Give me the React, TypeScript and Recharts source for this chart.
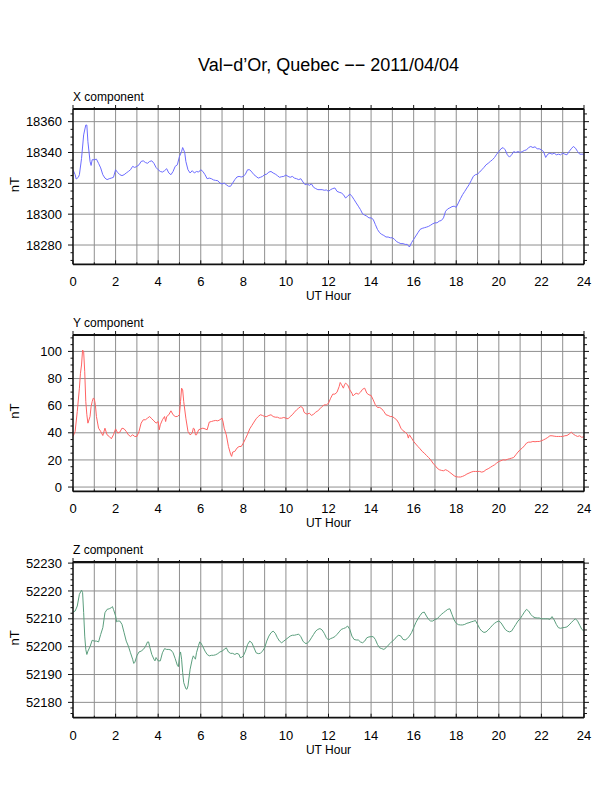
import React from "react";
import {
  CartesianGrid,
  Line,
  LineChart,
  XAxis,
  YAxis,
} from "recharts";

// [UT hour, nT]
const xComponent = [
  [0, 18328.8], [0.1, 18325.6], [0.15, 18322.8], [0.25, 18323.9], [0.3, 18325.6], [0.4, 18336], [0.5, 18351.4],
  [0.6, 18357.8], [0.65, 18357.8], [0.7, 18347], [0.8, 18334.2], [0.85, 18331.6], [0.9, 18335.3], [1.0, 18335.3],
  [1.1, 18335.7], [1.2, 18333], [1.3, 18330], [1.4, 18325.6], [1.5, 18323.4], [1.6, 18322.4], [1.7, 18323],
  [1.8, 18323.4], [1.9, 18323.9], [2.0, 18328.8], [2.1, 18327], [2.2, 18325.6], [2.3, 18325], [2.4, 18325.6],
  [2.5, 18326.7], [2.6, 18327.7], [2.7, 18328.8], [2.8, 18331], [2.9, 18330.3], [3.0, 18331], [3.1, 18332],
  [3.2, 18334.2], [3.3, 18334.6], [3.4, 18333.5], [3.5, 18333], [3.6, 18334.2], [3.7, 18334.6], [3.8, 18333],
  [3.9, 18330.3], [4.0, 18328.8], [4.1, 18327.7], [4.2, 18327.3], [4.3, 18328.2], [4.4, 18329.5], [4.5, 18326.7],
  [4.6, 18325.6], [4.7, 18327.7], [4.8, 18331], [4.9, 18332], [5.0, 18337.4], [5.1, 18340.6], [5.15, 18343.2],
  [5.2, 18341.7], [5.25, 18339.6], [5.3, 18334.2], [5.4, 18328.8], [5.5, 18326.7], [5.6, 18328.2], [5.7, 18326.7],
  [5.8, 18327.7], [5.9, 18327.3], [6.0, 18328.8], [6.1, 18327.7], [6.2, 18325.6], [6.3, 18323], [6.4, 18323.4],
  [6.5, 18323], [6.6, 18322.2], [6.7, 18321.9], [6.8, 18321.7], [6.9, 18320.2], [7.0, 18319.6], [7.1, 18320.2],
  [7.2, 18319.1], [7.3, 18318.1], [7.4, 18318.1], [7.5, 18320.2], [7.6, 18322.4], [7.7, 18324.1], [7.8, 18324.5],
  [7.9, 18324.1], [8.0, 18324.5], [8.1, 18326], [8.2, 18328.8], [8.3, 18328.8], [8.4, 18327.3], [8.5, 18325.6],
  [8.6, 18324.5], [8.7, 18323.4], [8.8, 18323.9], [8.9, 18324.5], [9.0, 18325.6], [9.1, 18326], [9.2, 18327.3],
  [9.3, 18327.7], [9.4, 18326.7], [9.5, 18326], [9.6, 18325], [9.7, 18323.9], [9.8, 18324.3], [9.9, 18324.5],
  [10.0, 18325.4], [10.1, 18324.5], [10.2, 18323.9], [10.3, 18324.5], [10.4, 18323.4], [10.5, 18323], [10.6, 18322.4],
  [10.7, 18323], [10.8, 18320.9], [10.9, 18319.1], [11.0, 18319.6], [11.1, 18318.7], [11.2, 18319.6], [11.3, 18317.4],
  [11.4, 18316.6], [11.5, 18315.9], [11.6, 18315.9], [11.7, 18315.9], [11.8, 18315.5], [11.9, 18315.7], [12.0, 18314.8],
  [12.1, 18315.9], [12.2, 18316.6], [12.3, 18317], [12.4, 18314.8], [12.5, 18314.2], [12.6, 18313.8], [12.7, 18312.7],
  [12.8, 18310.5], [12.9, 18311.6], [13.0, 18313.1], [13.1, 18311.6], [13.2, 18309.5], [13.3, 18307.3], [13.4, 18305.2],
  [13.5, 18303], [13.6, 18300.2], [13.7, 18299.4], [13.8, 18298.7], [13.9, 18297.6], [14.0, 18297.6], [14.1, 18296.6],
  [14.2, 18293.3], [14.3, 18290.1], [14.4, 18288], [14.5, 18286.9], [14.6, 18286.2], [14.7, 18285.2], [14.8, 18285.2],
  [14.9, 18284.7], [15.0, 18284.7], [15.1, 18283.7], [15.2, 18282.2], [15.3, 18281.5], [15.4, 18280.9], [15.5, 18280.9],
  [15.6, 18280.4], [15.7, 18280.4], [15.8, 18278.7], [15.9, 18281.5], [16.0, 18283.7], [16.1, 18285.8], [16.2, 18288],
  [16.3, 18290.1], [16.4, 18290.8], [16.5, 18291.2], [16.6, 18291.6], [16.7, 18292.1], [16.8, 18292.9], [16.9, 18293.8],
  [17.0, 18294.4], [17.1, 18294.4], [17.2, 18295.5], [17.3, 18295.9], [17.4, 18297.6], [17.5, 18301.9], [17.6, 18303.4],
  [17.7, 18304.1], [17.8, 18304.9], [17.9, 18305.2], [18.0, 18304.5], [18.1, 18307.3], [18.2, 18310.1], [18.3, 18312.7],
  [18.4, 18314.8], [18.5, 18317], [18.6, 18319.1], [18.7, 18321.7], [18.8, 18324.5], [18.9, 18325.6], [19.0, 18326],
  [19.1, 18327.3], [19.2, 18328.8], [19.3, 18330.3], [19.4, 18332], [19.5, 18333], [19.6, 18334.2], [19.7, 18335.3],
  [19.8, 18336.8], [19.9, 18338.9], [20.0, 18340.6], [20.1, 18342.4], [20.2, 18343.2], [20.3, 18341.7], [20.4, 18338.5],
  [20.5, 18337], [20.6, 18338.5], [20.7, 18340.6], [20.8, 18340], [20.9, 18340.6], [21.0, 18340], [21.1, 18340.6],
  [21.2, 18341.3], [21.3, 18341.7], [21.4, 18343.2], [21.5, 18343.9], [21.6, 18343.2], [21.7, 18343.7], [21.8, 18342.4],
  [21.9, 18342.4], [22.0, 18341.7], [22.1, 18340.6], [22.2, 18336.8], [22.3, 18338.9], [22.4, 18339.6], [22.5, 18338.9],
  [22.6, 18339.6], [22.7, 18338.5], [22.8, 18338.9], [22.9, 18338.5], [23.0, 18339.6], [23.1, 18338.9], [23.2, 18338.5],
  [23.3, 18340.6], [23.4, 18342.4], [23.5, 18343.9], [23.6, 18342.8], [23.7, 18340.6], [23.8, 18338.9], [24.0, 18338.9],
];

const yComponent = [
  [0, 37.3], [0.1, 41], [0.2, 55.7], [0.3, 72.9], [0.35, 83.9], [0.4, 90], [0.45, 101], [0.5, 99.9], [0.55, 85],
  [0.6, 63], [0.65, 53.3], [0.7, 47.1], [0.8, 52], [0.85, 59.4], [0.9, 63], [0.95, 65.5], [1.0, 65], [1.05, 60.6],
  [1.1, 52], [1.2, 43.4], [1.3, 41], [1.4, 38], [1.5, 43.4], [1.6, 38.5], [1.7, 37.3], [1.8, 35.6], [1.9, 38.5],
  [2.0, 42.9], [2.1, 39.8], [2.2, 40.5], [2.3, 43.4], [2.4, 42.9], [2.5, 41], [2.6, 38.5], [2.7, 37.3], [2.8, 38.5],
  [2.9, 37.3], [3.0, 37.3], [3.1, 41], [3.2, 47.1], [3.3, 49.6], [3.4, 49.6], [3.5, 50.8], [3.6, 52], [3.7, 50.3],
  [3.8, 48.8], [3.9, 47.1], [4.0, 48.3], [4.05, 42.2], [4.1, 45.9], [4.2, 49.6], [4.3, 52], [4.35, 48.3], [4.4, 52],
  [4.5, 53.3], [4.6, 56.2], [4.7, 53.3], [4.8, 52], [4.9, 52], [5.0, 53.3], [5.05, 63], [5.1, 72.9], [5.15, 71.7],
  [5.2, 63], [5.3, 50.8], [5.4, 41], [5.5, 38.5], [5.6, 39.8], [5.65, 43.4], [5.7, 42.9], [5.75, 38.5], [5.8, 38.5],
  [5.9, 42.2], [6.0, 42.9], [6.1, 43.4], [6.2, 42.9], [6.3, 42.2], [6.4, 47.9], [6.5, 48.3], [6.6, 48.8], [6.7, 49.1],
  [6.8, 48.8], [6.9, 49.6], [7.0, 50.8], [7.05, 47.9], [7.1, 43.4], [7.2, 38.5], [7.3, 29.9], [7.4, 24.3], [7.45, 22.6],
  [7.5, 25.8], [7.6, 26.3], [7.7, 28.7], [7.8, 29.9], [7.9, 29.9], [8.0, 32.4], [8.1, 35.6], [8.2, 39], [8.3, 42.9],
  [8.4, 45.4], [8.5, 47.9], [8.6, 50.3], [8.7, 52], [8.8, 53.3], [8.9, 52.8], [9.0, 52], [9.1, 52], [9.2, 52.8],
  [9.3, 53.3], [9.4, 52], [9.5, 51.5], [9.6, 51.5], [9.7, 50.8], [9.8, 50.8], [9.9, 51.3], [10.0, 50.8], [10.1, 50.3],
  [10.2, 52], [10.3, 53.3], [10.4, 55.2], [10.5, 56.9], [10.6, 58.2], [10.7, 59.4], [10.8, 58.2], [10.85, 55.2],
  [10.9, 54.5], [11.0, 53.7], [11.1, 54.5], [11.2, 52.8], [11.3, 53.7], [11.4, 55.2], [11.5, 56.2], [11.6, 57.7],
  [11.7, 59.4], [11.8, 60.6], [11.9, 60.6], [12.0, 61.8], [12.1, 65.5], [12.2, 68.5], [12.3, 68.5], [12.4, 69.9],
  [12.5, 74.1], [12.55, 77.1], [12.6, 75.8], [12.7, 72.9], [12.75, 75.3], [12.8, 76.6], [12.9, 75.3], [13.0, 71.7],
  [13.1, 69.2], [13.15, 67.2], [13.2, 68], [13.3, 69.2], [13.4, 68.5], [13.5, 69.9], [13.6, 72.1], [13.7, 72.9],
  [13.8, 69.2], [13.9, 68], [14.0, 67.5], [14.1, 64.3], [14.2, 60.6], [14.3, 58.7], [14.4, 58.7], [14.5, 57.7],
  [14.6, 55.7], [14.7, 53.3], [14.8, 52.8], [14.9, 52], [15.0, 52], [15.1, 50.8], [15.2, 49.6], [15.3, 47.1],
  [15.4, 43.4], [15.5, 41.5], [15.6, 40.5], [15.7, 39], [15.75, 36.1], [15.8, 38.5], [15.9, 36.1], [16.0, 33.6],
  [16.1, 31.7], [16.2, 29.9], [16.3, 28.2], [16.4, 26.3], [16.5, 25], [16.6, 23.3], [16.7, 21.8], [16.8, 20.1],
  [16.9, 17.7], [17.0, 16], [17.1, 14], [17.2, 12.8], [17.3, 12.3], [17.4, 12], [17.5, 12.8], [17.6, 12], [17.7, 10.8],
  [17.8, 9.6], [17.9, 8.3], [18.0, 7.6], [18.1, 7.4], [18.2, 7.4], [18.3, 7.9], [18.4, 8.6], [18.5, 9.6], [18.6, 10.3],
  [18.7, 11], [18.8, 11.5], [18.9, 11.5], [19.0, 11.5], [19.1, 11.5], [19.2, 11], [19.3, 11.5], [19.4, 12.8],
  [19.5, 13.5], [19.6, 14.5], [19.7, 15.5], [19.8, 16.4], [19.9, 17.7], [20.0, 18.9], [20.1, 19.4], [20.2, 20.1],
  [20.3, 19.9], [20.4, 20.4], [20.5, 20.9], [20.6, 21.3], [20.7, 21.8], [20.8, 23.8], [20.9, 25.8], [21.0, 27.5],
  [21.1, 28.7], [21.2, 30.4], [21.3, 32.4], [21.4, 33.1], [21.5, 33.1], [21.6, 33.6], [21.7, 33.4], [21.8, 33.6],
  [21.9, 33.6], [22.0, 34.1], [22.1, 34.8], [22.2, 35.6], [22.3, 36.6], [22.4, 37.8], [22.5, 37.8], [22.6, 37.5],
  [22.7, 37.3], [22.8, 37.3], [22.9, 37.3], [23.0, 37.3], [23.1, 37.8], [23.2, 38], [23.3, 39], [23.4, 40.5],
  [23.5, 39], [23.6, 38], [23.7, 37.3], [23.8, 37.8], [23.9, 36.6], [24.0, 37.3],
];

const zComponent = [
  [0, 52212.4], [0.1, 52212.8], [0.2, 52214.6], [0.3, 52218.8], [0.4, 52220.3], [0.45, 52219.4], [0.5, 52212.2],
  [0.55, 52203.8], [0.6, 52199], [0.65, 52197.2], [0.7, 52198.4], [0.8, 52200], [0.9, 52202.3], [1.0, 52202],
  [1.1, 52202], [1.2, 52201.7], [1.3, 52204.4], [1.4, 52206.8], [1.5, 52212.2], [1.6, 52213.4], [1.7, 52213.6],
  [1.8, 52214], [1.85, 52214.4], [1.9, 52213.4], [2.0, 52211], [2.05, 52208.9], [2.1, 52209.2], [2.2, 52209.2],
  [2.3, 52208], [2.4, 52205], [2.5, 52202], [2.6, 52200.2], [2.7, 52197.8], [2.8, 52195.5], [2.85, 52194],
  [2.9, 52194.3], [3.0, 52196.7], [3.1, 52198.1], [3.2, 52198.4], [3.3, 52199], [3.4, 52200], [3.5, 52201.7],
  [3.55, 52201.7], [3.6, 52200], [3.7, 52197.2], [3.8, 52195.5], [3.85, 52194.9], [3.9, 52196.1], [4.0, 52194.9],
  [4.1, 52194.9], [4.2, 52197.8], [4.3, 52199.3], [4.4, 52199], [4.5, 52199], [4.6, 52198.8], [4.7, 52197.8],
  [4.8, 52195.7], [4.9, 52193.3], [4.95, 52192.8], [5.0, 52196.7], [5.05, 52198.1], [5.1, 52195.5], [5.15, 52190.7],
  [5.2, 52187.1], [5.3, 52184.9], [5.35, 52184.7], [5.4, 52185.9], [5.5, 52191.9], [5.6, 52195.5], [5.65, 52196.7],
  [5.7, 52196.1], [5.75, 52195.5], [5.8, 52197.8], [5.9, 52200.5], [5.95, 52201.7], [6.0, 52201.4], [6.1, 52200],
  [6.2, 52198.4], [6.3, 52197.2], [6.4, 52196.7], [6.5, 52196.9], [6.6, 52196.9], [6.7, 52197.1], [6.8, 52197.5],
  [6.9, 52198.1], [7.0, 52198.4], [7.1, 52199], [7.2, 52199.6], [7.3, 52198.1], [7.4, 52197.6], [7.5, 52197.6],
  [7.6, 52197.2], [7.7, 52197.6], [7.8, 52197.2], [7.85, 52196.1], [7.9, 52196.1], [8.0, 52196.7], [8.1, 52198.4],
  [8.2, 52200.8], [8.3, 52202], [8.4, 52201.4], [8.5, 52199.6], [8.6, 52197.8], [8.7, 52197.5], [8.8, 52197.6],
  [8.9, 52198.4], [9.0, 52199.6], [9.1, 52202], [9.2, 52203.8], [9.3, 52205], [9.4, 52205.6], [9.5, 52204.8],
  [9.6, 52203.2], [9.7, 52202], [9.8, 52201.4], [9.9, 52202], [10.0, 52202.6], [10.1, 52203.2], [10.2, 52203.8],
  [10.3, 52204.1], [10.4, 52204.1], [10.5, 52204.3], [10.6, 52204.5], [10.7, 52203.6], [10.8, 52202], [10.9, 52201.2],
  [11.0, 52201.2], [11.1, 52202], [11.2, 52203.2], [11.3, 52204.4], [11.4, 52205.6], [11.5, 52206.2], [11.6, 52206.5],
  [11.7, 52206], [11.8, 52204.8], [11.9, 52203.2], [12.0, 52202.4], [12.1, 52202.9], [12.2, 52203.2], [12.3, 52203.6],
  [12.4, 52204.4], [12.5, 52205.3], [12.6, 52206.2], [12.7, 52206.5], [12.8, 52206.8], [12.9, 52207.4], [13.0, 52206.2],
  [13.1, 52203.8], [13.2, 52202.6], [13.3, 52202.4], [13.4, 52202.4], [13.5, 52201.7], [13.6, 52201.4], [13.7, 52202],
  [13.8, 52203.2], [13.9, 52203.5], [14.0, 52203.6], [14.1, 52203.6], [14.2, 52202.6], [14.3, 52200.8], [14.4, 52199.6],
  [14.5, 52199.3], [14.6, 52199], [14.7, 52199.6], [14.8, 52200.5], [14.9, 52201.2], [15.0, 52202], [15.1, 52202.6],
  [15.2, 52203.6], [15.3, 52204.1], [15.4, 52203.8], [15.5, 52202.6], [15.6, 52202.4], [15.7, 52202.9], [15.8, 52203.8],
  [15.9, 52205], [16.0, 52206.8], [16.1, 52208.6], [16.2, 52210], [16.3, 52211.2], [16.4, 52212.2], [16.5, 52212.4],
  [16.6, 52211], [16.7, 52209.8], [16.8, 52209.2], [16.9, 52209.2], [17.0, 52209.8], [17.1, 52210], [17.2, 52210.8],
  [17.3, 52211.6], [17.4, 52212.2], [17.5, 52212.8], [17.6, 52213.4], [17.7, 52213.6], [17.8, 52211.6], [17.9, 52209.6],
  [18.0, 52208.4], [18.1, 52207.9], [18.2, 52207.8], [18.3, 52207.8], [18.4, 52208], [18.5, 52208.4], [18.6, 52208.6],
  [18.7, 52208.9], [18.8, 52209.1], [18.9, 52209.4], [19.0, 52208], [19.1, 52206.5], [19.2, 52205.6], [19.3, 52205.1],
  [19.4, 52205.3], [19.5, 52206], [19.6, 52206.8], [19.7, 52207.7], [19.8, 52208.4], [19.9, 52208.9], [20.0, 52209.2],
  [20.1, 52208.6], [20.2, 52207.4], [20.3, 52206.2], [20.4, 52205.6], [20.5, 52205.3], [20.6, 52205.6], [20.7, 52206.8],
  [20.8, 52208], [20.9, 52209.2], [21.0, 52210], [21.1, 52211.2], [21.2, 52212.4], [21.3, 52213.4], [21.4, 52212.8],
  [21.5, 52211.6], [21.6, 52210.8], [21.7, 52210.4], [21.8, 52210.3], [21.9, 52210.3], [22.0, 52210], [22.1, 52210],
  [22.2, 52210], [22.3, 52210], [22.4, 52209.8], [22.5, 52210.8], [22.6, 52209.6], [22.7, 52208], [22.8, 52206.8],
  [22.9, 52206.6], [23.0, 52206.8], [23.1, 52206.9], [23.2, 52207.1], [23.3, 52207.8], [23.4, 52208.6], [23.5, 52209.4],
  [23.6, 52210], [23.7, 52209.2], [23.8, 52207.7], [23.9, 52206.2], [24.0, 52205.6],
];

const xLabels = [18280, 18300, 18320, 18340, 18360];
const yLabels = [0, 20, 40, 60, 80, 100];
const zLabels = [52180, 52190, 52200, 52210, 52220, 52230];

const range = (a: number, b: number, s: number) => {
  const out: number[] = [];
  for (let v = a; v <= b + 1e-9; v += s) out.push(Math.round(v * 1000) / 1000);
  return out;
};

const hourTicks = range(0, 24, 1);
const FONT = "'Liberation Sans', Arial, Helvetica, sans-serif";
const AXIS = "#111";
const GRID = "#8f8f8f";

const isOn = (v: number, list: number[]) => list.some((m) => Math.abs(m - v) < 1e-6);

const LeftTick = (labels: number[]) => (props: any) => {
  const { x, y, payload } = props;
  const major = isOn(payload.value, labels);
  return (
    <g>
      <line x1={x - (major ? 5 : 2.5)} x2={x} y1={y} y2={y} stroke={AXIS} strokeWidth={1} />
      {major && (
        <text x={x - 11} y={y} dy="0.36em" textAnchor="end" fontSize={13} fontFamily={FONT} fill="#000">
          {payload.value}
        </text>
      )}
    </g>
  );
};

const RightTick = (labels: number[]) => (props: any) => {
  const { x, y, payload } = props;
  const major = isOn(payload.value, labels);
  return <line x1={x} x2={x + (major ? 5 : 3)} y1={y} y2={y} stroke={AXIS} strokeWidth={1} />;
};

const BottomTick = (props: any) => {
  const { x, y, payload } = props;
  const major = payload.value % 2 === 0;
  return (
    <g>
      <line x1={x} x2={x} y1={y} y2={y - (major ? 4 : 2)} stroke={AXIS} strokeWidth={1} />
      {major && (
        <text x={x} y={y + 22} textAnchor="middle" fontSize={13} fontFamily={FONT} fill="#000">
          {payload.value}
        </text>
      )}
    </g>
  );
};

const TopTick = (props: any) => {
  const { x, y, payload } = props;
  const major = payload.value % 2 === 0;
  return <line x1={x} x2={x} y1={y} y2={y - (major ? 4 : 2)} stroke={AXIS} strokeWidth={1} />;
};

type PanelProps = {
  title: string;
  series: number[][];
  color: string;
  domain: [number, number];
  labels: number[];
  minorStep: number;
  plotTop: number;
  plotHeight: number;
};

function Panel({ title, series, color, domain, labels, minorStep, plotTop, plotHeight }: PanelProps) {
  const data = series.map(([h, v]) => ({ h, v }));
  const ticks = range(Math.ceil(domain[0] / minorStep) * minorStep, domain[1], minorStep);
  const height = 20 + plotHeight + 30;
  const mid = 20 + plotHeight / 2 - 2;
  return (
    <div style={{ position: "absolute", left: 0, top: plotTop - 20 }}>
      <LineChart width={612} height={height} data={data} margin={{ top: 10, right: 18, bottom: 0, left: 13 }}>
        <CartesianGrid stroke={GRID} strokeWidth={1} verticalValues={hourTicks} horizontalValues={labels} />
        <XAxis
          dataKey="h"
          type="number"
          domain={[0, 24]}
          ticks={hourTicks}
          interval={0}
          allowDataOverflow
          height={30}
          tickSize={0}
          tickMargin={0}
          tickLine={false}
          tick={BottomTick}
          axisLine={{ stroke: AXIS, strokeWidth: 1.8 }}
        />
        <XAxis
          xAxisId="top"
          orientation="top"
          dataKey="h"
          type="number"
          domain={[0, 24]}
          ticks={hourTicks}
          interval={0}
          allowDataOverflow
          height={10}
          tickSize={0}
          tickMargin={0}
          tickLine={false}
          tick={TopTick}
          axisLine={{ stroke: AXIS, strokeWidth: 1.8 }}
        />
        <YAxis
          type="number"
          domain={domain}
          ticks={ticks}
          interval={0}
          allowDataOverflow
          width={60}
          tickSize={0}
          tickMargin={0}
          tickLine={false}
          tick={LeftTick(labels)}
          axisLine={{ stroke: AXIS, strokeWidth: 1.4 }}
        />
        <YAxis
          yAxisId="right"
          orientation="right"
          type="number"
          domain={domain}
          ticks={ticks}
          interval={0}
          allowDataOverflow
          width={10}
          tickSize={0}
          tickMargin={0}
          tickLine={false}
          tick={RightTick(labels)}
          axisLine={{ stroke: AXIS, strokeWidth: 1.4 }}
        />
        <Line
          dataKey="v"
          type="linear"
          stroke={color}
          strokeWidth={1}
          dot={false}
          activeDot={false}
          isAnimationActive={false}
        />
      </LineChart>
      <svg width={612} height={height + 20} style={{ position: "absolute", left: 0, top: 0, pointerEvents: "none" }}>
        <text x={73} y={20 - 8.5} fontSize={12} fontFamily={FONT} fill="#000">
          {title}
        </text>
        <text x={328.5} y={20 + plotHeight + 36} textAnchor="middle" fontSize={12} fontFamily={FONT} fill="#000">
          UT Hour
        </text>
        <text
          x={19.3}
          y={mid}
          textAnchor="middle"
          fontSize={13}
          fontFamily={FONT}
          fill="#000"
          transform={`rotate(-90 19.3 ${mid})`}
        >
          nT
        </text>
      </svg>
    </div>
  );
}

export default function App() {
  return (
    <div style={{ position: "absolute", left: 0, top: 0, width: 612, height: 792, background: "#fff" }}>
      <svg width={612} height={90} style={{ position: "absolute", left: 0, top: 0 }}>
        <text x={328.5} y={71} textAnchor="middle" fontSize={18} fontFamily={FONT} fill="#000">
          Val−d’Or, Quebec −− 2011/04/04
        </text>
      </svg>
      <Panel
        title="X component"
        series={xComponent}
        color="#6b6bff"
        domain={[18267.5, 18368.2]}
        labels={xLabels}
        minorStep={5}
        plotTop={109}
        plotHeight={155.3}
      />
      <Panel
        title="Y component"
        series={yComponent}
        color="#ff6262"
        domain={[-3.2, 112.1]}
        labels={yLabels}
        minorStep={5}
        plotTop={335.3}
        plotHeight={156.4}
      />
      <Panel
        title="Z component"
        series={zComponent}
        color="#5a9e7c"
        domain={[52174.5, 52230.4]}
        labels={zLabels}
        minorStep={2}
        plotTop={562.3}
        plotHeight={155.7}
      />
    </div>
  );
}
